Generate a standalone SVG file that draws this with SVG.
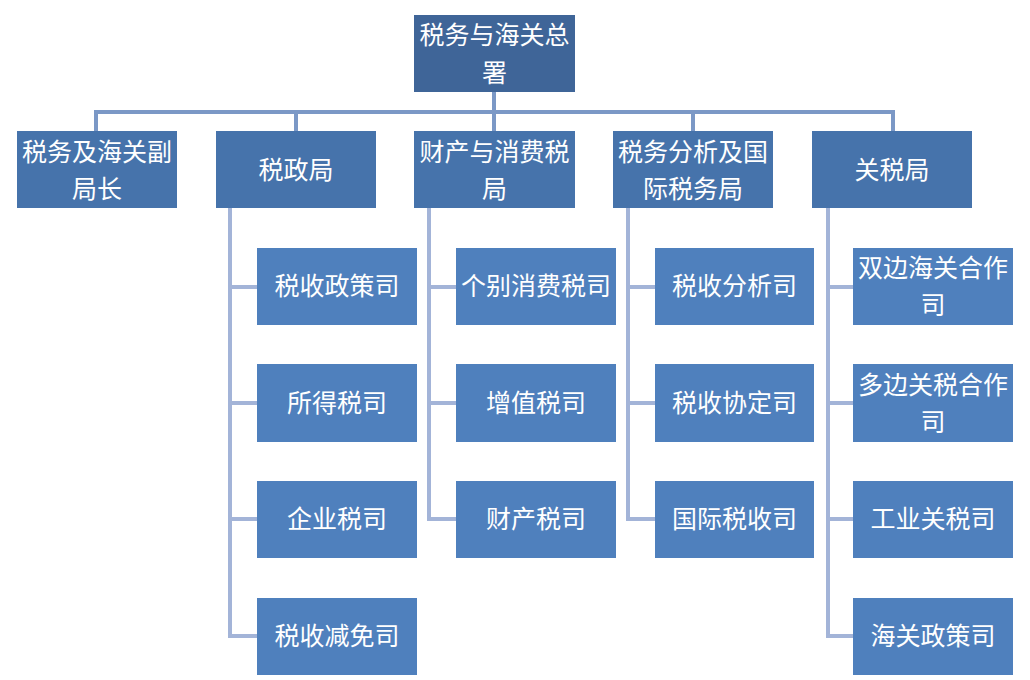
<svg xmlns="http://www.w3.org/2000/svg" width="1030" height="680" viewBox="0 0 1030 680">
<style>
.top{fill:#3f6598}
.l2{fill:#4673ab}
.l3{fill:#4f80bd}
text{font-family:"Noto Sans CJK SC","Liberation Sans",sans-serif;font-size:25px;fill:#fff;text-anchor:middle}
.bus{stroke:#7b98c6;stroke-width:4;fill:none}
.br{stroke:#a3b4d8;stroke-width:4;fill:none}
</style>
<rect width="1030" height="680" fill="#fff"/>
<g id="connectors">
<path class="bus" d="M494 92V112M96 131V112H893V131M296 112V131M494 112V131M693 112V131"/>
<path class="br" d="M230 208V636H257M230 287H257M230 403H257M230 519H257"/>
<path class="br" d="M429 208V519H456M429 287H456M429 403H456"/>
<path class="br" d="M628 208V519H655M628 287H655M628 403H655"/>
<path class="br" d="M828 208V636H853M828 287H853M828 403H853M828 519H853"/>
</g>
<g id="n0"><rect class="top" x="414" y="15" width="161" height="77"/><text x="494.5" y="44">税务与海关总</text><text x="494.5" y="82">署</text></g>
<g id="n1"><rect class="l2" x="17" y="131" width="160" height="77"/><text x="97" y="161">税务及海关副</text><text x="97" y="198">局长</text></g>
<g id="n2"><rect class="l2" x="216" y="131" width="160" height="77"/><text x="296" y="179">税政局</text></g>
<g id="n3"><rect class="l2" x="414" y="131" width="161" height="77"/><text x="494.5" y="161">财产与消费税</text><text x="494.5" y="198">局</text></g>
<g id="n4"><rect class="l2" x="613" y="131" width="160" height="77"/><text x="693" y="161">税务分析及国</text><text x="693" y="198">际税务局</text></g>
<g id="n5"><rect class="l2" x="812" y="131" width="160" height="77"/><text x="892" y="179">关税局</text></g>
<g id="n6"><rect class="l3" x="257" y="248" width="160" height="77"/><text x="337" y="295">税收政策司</text></g>
<g id="n7"><rect class="l3" x="257" y="364" width="160" height="78"/><text x="337" y="412">所得税司</text></g>
<g id="n8"><rect class="l3" x="257" y="481" width="160" height="77"/><text x="337" y="528">企业税司</text></g>
<g id="n9"><rect class="l3" x="257" y="598" width="160" height="77"/><text x="337" y="645">税收减免司</text></g>
<g id="n10"><rect class="l3" x="456" y="248" width="160" height="77"/><text x="536" y="295">个别消费税司</text></g>
<g id="n11"><rect class="l3" x="456" y="364" width="160" height="78"/><text x="536" y="412">增值税司</text></g>
<g id="n12"><rect class="l3" x="456" y="481" width="160" height="77"/><text x="536" y="528">财产税司</text></g>
<g id="n13"><rect class="l3" x="655" y="248" width="159" height="77"/><text x="734.5" y="295">税收分析司</text></g>
<g id="n14"><rect class="l3" x="655" y="364" width="159" height="78"/><text x="734.5" y="412">税收协定司</text></g>
<g id="n15"><rect class="l3" x="655" y="481" width="159" height="77"/><text x="734.5" y="528">国际税收司</text></g>
<g id="n16"><rect class="l3" x="853" y="248" width="160" height="77"/><text x="933" y="277">双边海关合作</text><text x="933" y="314">司</text></g>
<g id="n17"><rect class="l3" x="853" y="364" width="160" height="78"/><text x="933" y="394">多边关税合作</text><text x="933" y="431">司</text></g>
<g id="n18"><rect class="l3" x="853" y="481" width="160" height="77"/><text x="933" y="528">工业关税司</text></g>
<g id="n19"><rect class="l3" x="853" y="598" width="160" height="77"/><text x="933" y="645">海关政策司</text></g>
</svg>
